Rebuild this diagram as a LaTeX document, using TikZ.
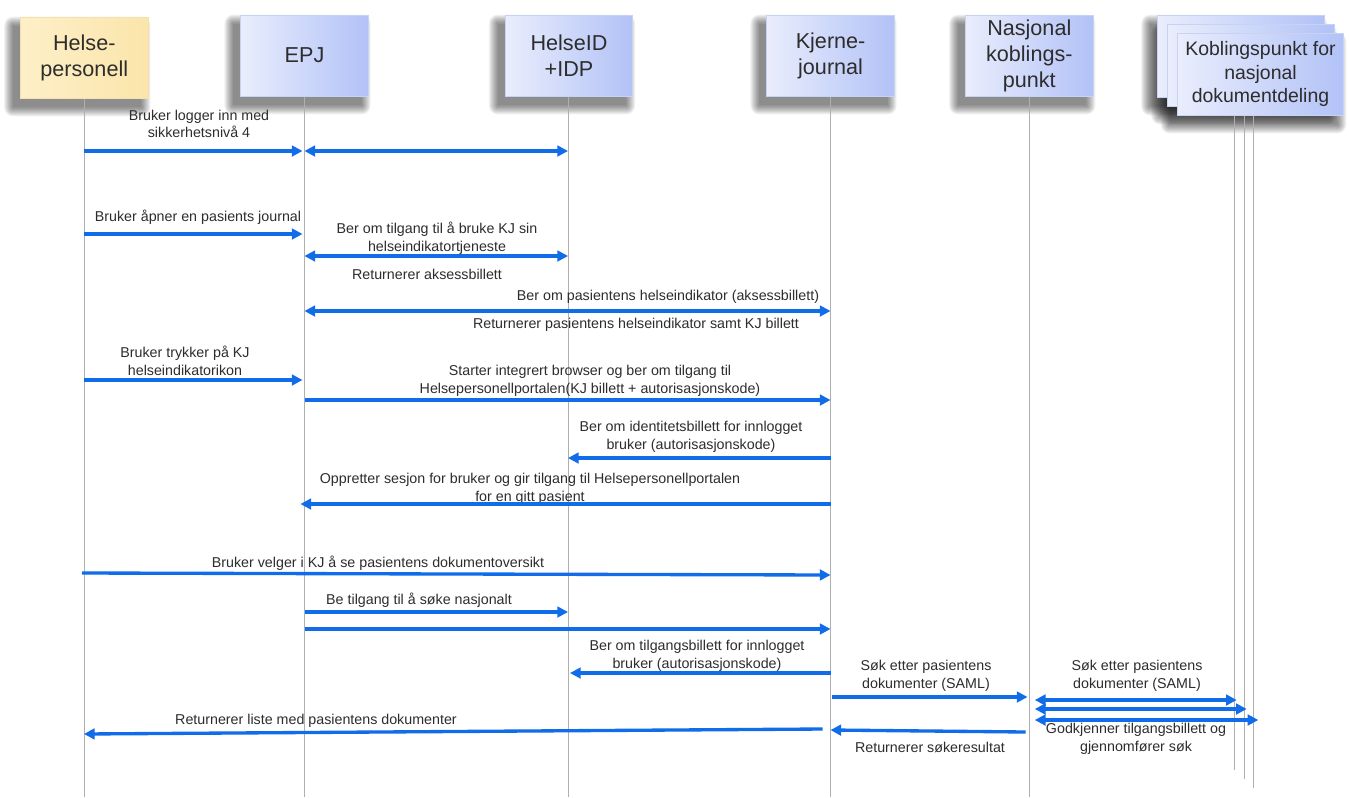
\documentclass[tikz,border=0pt]{standalone}
\usepackage{fontspec}
\setmainfont{Liberation Sans}
\usetikzlibrary{arrows.meta,calc}
\pgfdeclarelayer{paper}
\pgfdeclarelayer{bg}
\pgfsetlayers{paper,bg,main}
\definecolor{arrowblue}{RGB}{16,108,232}
\definecolor{lifegray}{RGB}{175,175,175}
\definecolor{boxL}{RGB}{233,237,252}
\definecolor{boxR}{RGB}{178,194,247}
\definecolor{boxline}{RGB}{200,210,242}
\definecolor{yelL}{RGB}{253,239,200}
\definecolor{yelR}{RGB}{251,229,170}
\definecolor{yelline}{RGB}{245,225,175}
\definecolor{txt}{RGB}{45,45,45}
\begin{document}
\begin{tikzpicture}[x=0.75pt,y=-0.75pt,
  hdr/.style={draw=boxline, line width=0.7pt, left color=boxL, right color=boxR,
    minimum width=95.5pt, minimum height=60.75pt, inner sep=0pt, align=center,
    font=\fontsize{16.2}{19.5}\selectfont, text=txt},
  yhdr/.style={hdr, draw=yelline, left color=yelL, right color=yelR},
  khdr/.style={hdr, minimum width=125pt, minimum height=61.5pt,
    font=\fontsize{14.6}{17.6}\selectfont},
  shadowpiece/.style={fill=black, fill opacity=0.055, draw=none},
  life/.style={draw=lifegray, line width=0.6pt},
  lbl/.style={inner sep=0pt, align=center, text=txt, font=\fontsize{10.7}{13.3}\selectfont},
  msg/.style={draw=arrowblue, line width=2.5pt, -{Triangle[length=8pt,width=8pt]}},
  dmsg/.style={draw=arrowblue, line width=2.5pt, {Triangle[length=8pt,width=8pt]}-{Triangle[length=8pt,width=8pt]}}
]
\begin{pgfonlayer}{paper}
\fill[white] (0,0) rectangle (1349,797);
\end{pgfonlayer}
\useasboundingbox (0,0) rectangle (1349,797);

% lifelines anchors
\coordinate (hpl) at (84,98);
\coordinate (epjl) at (304.5,96);
\coordinate (hidl) at (568,96);
\coordinate (kjl) at (830.5,96);
\coordinate (nkl) at (1029.5,96);
\coordinate (kl1) at (1234,115);
\coordinate (kl2) at (1244,115);
\coordinate (kl3) at (1253,115);

\draw[life] (hpl) -- (hpl |- 0,797);
\draw[life] (epjl) -- (epjl |- 0,797);
\draw[life] (hidl) -- (hidl |- 0,797);
\draw[life] (kjl) -- (kjl |- 0,797);
\draw[life] (nkl) -- (nkl |- 0,797);
\draw[life] (kl1) -- (kl1 |- 0,770);
\draw[life] (kl2) -- (kl2 |- 0,779);
\draw[life] (kl3) -- (kl3 |- 0,788);

% headers
\node[yhdr] (hp) at (84.3,57.5) {Helse-\\personell};
\node[hdr] (epj) at (304.5,55.5) {EPJ};
\node[hdr] (hid) at (569,55.5) {HelseID\\+IDP};
\node[hdr] (kj) at (830.6,55.5) {Kjerne-\\journal};
\node[hdr] (nk) at (1029.3,55.5) {Nasjonal\\koblings-\\punkt};
\node[khdr] (kb3) at (1241,56) {};
\node[khdr] (kb2) at (1251,65) {};
\node[khdr] (kb1) at (1260.5,74) {Koblingspunkt for\\nasjonal\\dokumentdeling};

% soft shadows (left and below)
\begin{pgfonlayer}{bg}
\foreach \n in {hp,epj,hid,kj,nk,kb3,kb2,kb1}{
  \foreach \e in {0,1,...,9}{
    \fill[shadowpiece, rounded corners=\e*0.75pt]
      ($(\n.north west)+(-7-\e,9-\e)$) rectangle ($(\n.south east)+(-7+\e,9+\e)$);
  }
}
\end{pgfonlayer}

% labels
\node[lbl] (l1) at (199,124) {Bruker logger inn med\\sikkerhetsnivå 4};
\node[lbl] (l3) at (198,217) {Bruker åpner en pasients journal};
\node[lbl] (l4) at (437,238) {Ber om tilgang til å bruke KJ sin\\helseindikatortjeneste};
\node[lbl] (l5) at (427,274) {Returnerer aksessbillett};
\node[lbl] (l6) at (668,297) {Ber om pasientens helseindikator (aksessbillett)};
\node[lbl] (l7) at (636,325) {Returnerer pasientens helseindikator samt KJ billett};
\node[lbl] (l8) at (185,361) {Bruker trykker på KJ\\helseindikatorikon};
\node[lbl] (l9) at (590,381) {Starter integrert browser og ber om tilgang til\\Helsepersonellportalen(KJ billett + autorisasjonskode)};
\node[lbl] (l10) at (691,437) {Ber om identitetsbillett for innlogget\\bruker (autorisasjonskode)};
\node[lbl] (l11) at (530,489) {Oppretter sesjon for bruker og gir tilgang til Helsepersonellportalen\\for en gitt pasient};
\node[lbl] (l12) at (378,563) {Bruker velger i KJ å se pasientens dokumentoversikt};
\node[lbl] (l13) at (419,600) {Be tilgang til å søke nasjonalt};
\node[lbl] (l15) at (697,656) {Ber om tilgangsbillett for innlogget\\bruker (autorisasjonskode)};
\node[lbl] (l16) at (926,676) {Søk etter pasientens\\dokumenter (SAML)};
\node[lbl] (l17) at (316,721) {Returnerer liste med pasientens dokumenter};
\node[lbl] (l18) at (930,747) {Returnerer søkeresultat};
\node[lbl] (l19) at (1137,676) {Søk etter pasientens\\dokumenter (SAML)};
\node[lbl] (l20) at (1136,739) {Godkjenner tilgangsbillett og\\gjennomfører søk};

% messages
\draw[msg] (hpl |- 0,151) -- ([xshift=-1.5pt]epjl |- 0,151);
\draw[dmsg] (epjl |- 0,151) -- (hidl |- 0,151);
\draw[msg] (hpl |- 0,234) -- ([xshift=-1.5pt]epjl |- 0,234);
\draw[dmsg] (epjl |- 0,256) -- (hidl |- 0,256);
\draw[dmsg] (epjl |- 0,311) -- (kjl |- 0,311);
\draw[msg] (hpl |- 0,380) -- ([xshift=-1.5pt]epjl |- 0,380);
\draw[msg] (epjl |- 0,400) -- (kjl |- 0,400);
\draw[msg] (kjl |- 0,458) -- (hidl |- 0,458);
\draw[msg] (kjl |- 0,504) -- ([xshift=-3pt]epjl |- 0,504);
\draw[msg] ([xshift=-1.5pt]hpl |- 0,573) -- (kjl |- 0,575);
\draw[msg] (epjl |- 0,612) -- (hidl |- 0,612);
\draw[msg] (epjl |- 0,629) -- (kjl |- 0,629);
\draw[msg] (kjl |- 0,673) -- ([xshift=1.5pt]hidl |- 0,673);
\draw[msg] ([xshift=1pt]kjl |- 0,697) -- ([xshift=-1.5pt]nkl |- 0,697);
\draw[msg] ([xshift=-6pt]kjl |- 0,729) -- (hpl |- 0,734);
\draw[msg] ([xshift=-3pt]nkl |- 0,732) -- (kjl |- 0,730);
\draw[dmsg] ([xshift=4pt]nkl |- 0,700) -- ([xshift=2pt]kl1 |- 0,700);
\draw[dmsg] ([xshift=4pt]nkl |- 0,709) -- ([xshift=2pt]kl2 |- 0,709);
\draw[dmsg] ([xshift=4pt]nkl |- 0,720) -- ([xshift=4pt]kl3 |- 0,720);
\end{tikzpicture}
\end{document}
